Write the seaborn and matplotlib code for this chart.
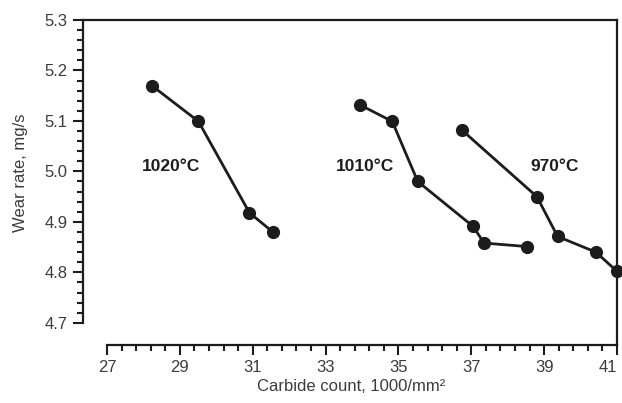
import numpy as np
import pandas as pd
import matplotlib
matplotlib.use("Agg")
import matplotlib.pyplot as plt
import seaborn as sns
from matplotlib.ticker import FixedLocator

# Values
count_1020 = [28.23, 29.51, 30.91, 31.55]
wear_1020 = [5.170, 5.099, 4.918, 4.880]

count_1010 = [33.94, 34.83, 35.53, 37.05, 37.35, 38.54]
wear_1010 = [5.132, 5.099, 4.980, 4.891, 4.858, 4.851]

count_970 = [36.74, 38.80, 39.37, 40.42, 41.0]
wear_970 = [5.082, 4.950, 4.871, 4.840, 4.802]

series_names = ["1020°C", "1010°C", "970°C"]
label_pos = [(27.95, 5.01), (33.27, 5.01), (38.63, 5.01)]

x_ticks = [27, 29, 31, 33, 35, 37, 39, 41]
y_ticks = [4.7, 4.8, 4.9, 5.0, 5.1, 5.2, 5.3]

df = pd.concat([
    pd.DataFrame({"count": count_1020, "wear": wear_1020, "temp": "1020°C"}),
    pd.DataFrame({"count": count_1010, "wear": wear_1010, "temp": "1010°C"}),
    pd.DataFrame({"count": count_970, "wear": wear_970, "temp": "970°C"}),
])

sns.set_style("ticks")
plt.rcParams["font.family"] = ["Liberation Sans", "DejaVu Sans"]

ink = "#1c1c1c"
grey = "#3c3c3c"

fig = plt.figure(figsize=(6.22, 4.03), dpi=100)
ax = fig.add_axes([83 / 622, 58 / 403, 534 / 622, 325 / 403])

sns.lineplot(data=df, x="count", y="wear", hue="temp", units="temp",
             estimator=None, sort=False, palette=[ink] * 3, legend=False,
             marker="o", markersize=9.5, markeredgewidth=0, linewidth=2.0,
             ax=ax, clip_on=False)

for name, (lx, ly) in zip(series_names, label_pos):
    ax.text(lx, ly, name, fontsize=12.5, fontweight="bold", color=ink,
            ha="left", va="center")

ax.set_xlim(26.34, 41)
ax.set_ylim(4.656, 5.3)

ax.spines["left"].set_bounds(4.7, 5.3)
ax.spines["bottom"].set_bounds(27, 41)
for side in ["left", "bottom", "top", "right"]:
    ax.spines[side].set_visible(True)
    ax.spines[side].set_color(ink)
    ax.spines[side].set_linewidth(1.6)

ax.xaxis.set_major_locator(FixedLocator(x_ticks))
ax.xaxis.set_minor_locator(FixedLocator(np.arange(27, 41.01, 0.4)))
ax.yaxis.set_major_locator(FixedLocator(y_ticks))
ax.yaxis.set_minor_locator(FixedLocator(np.arange(4.7, 5.301, 0.02)))
ax.set_xticklabels([str(t) for t in x_ticks])
ax.set_yticklabels([f"{t:.1f}" for t in y_ticks])

ax.tick_params(which="major", direction="out", length=7, width=1.5,
               color=ink, labelsize=12, labelcolor=grey, pad=4)
ax.tick_params(which="minor", direction="out", length=4, width=1.5, color=ink)

# last x label sits against the right edge, as in the source
ax.get_xticklabels()[-1].set_horizontalalignment("right")
ax.get_xticklabels()[-1].set_x(41)

ax.set_xlabel("Carbide count, 1000/mm²", fontsize=12, color=grey)
ax.set_ylabel("Wear rate, mg/s", fontsize=12, color=grey)
ax.xaxis.set_label_coords(0.502, -0.105)
ax.yaxis.set_label_coords(-0.103, 0.53)

fig.savefig("out.png", dpi=100)
